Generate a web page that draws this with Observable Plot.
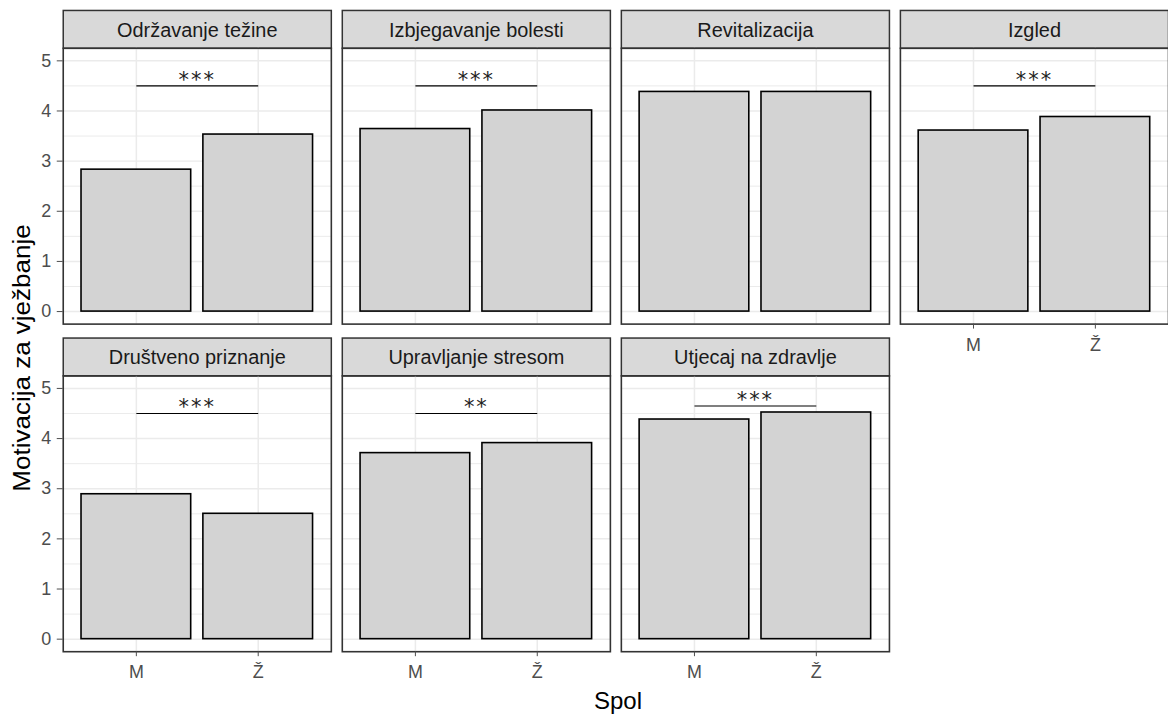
<!DOCTYPE html>
<html>
<head>
<meta charset="utf-8">
<script src="https://cdn.jsdelivr.net/npm/d3@7"></script>
<script src="https://cdn.jsdelivr.net/npm/@observablehq/plot@0.6"></script>
<style>
  body { margin: 0; overflow: hidden; background: #fff; font-family: "Liberation Sans", Arial, sans-serif; }
  #wrap { position: relative; width: 1168px; height: 720px; overflow: hidden; }
  #chart { position: absolute; left: 0; top: 0; }
  #ytitle { position: absolute; left: 22px; top: 358px; transform: translate(-50%, -50%) rotate(-90deg) scaleX(1.13);
            font-size: 23px; line-height: 24px; white-space: nowrap; color: #000; }
  #xtitle { position: absolute; left: 618px; top: 689px; transform: translateX(-50%);
            font-size: 24px; line-height: 24px; white-space: nowrap; color: #000; }
</style>
</head>
<body>
<div id="wrap">
  <div id="chart"></div>
  <div id="ytitle">Motivacija za vježbanje</div>
  <div id="xtitle">Spol</div>
</div>
<script>
// ---- data ----
const panels = ["Održavanje težine", "Izbjegavanje bolesti", "Revitalizacija", "Izgled",
                "Društveno priznanje", "Upravljanje stresom", "Utjecaj na zdravlje"];
const sexes = ["M", "Ž"];
const meanM = [2.83, 3.64, 4.38, 3.61, 2.89, 3.71, 4.38];
const meanZ = [3.53, 4.01, 4.38, 3.88, 2.50, 3.91, 4.52];
const sigLabel = ["***", "***", "", "***", "***", "**", "***"];
const sigY = [4.5, 4.5, null, 4.5, 4.5, 4.5, 4.65];
const yTicks = [0, 1, 2, 3, 4, 5];
const yMinor = [0.5, 1.5, 2.5, 3.5, 4.5];
const nCols = 4;

// ---- tables built from the arrays ----
const strips = panels.map((name, i) => ({name, col: i % nCols, row: Math.floor(i / nCols)}));
const bars = [];
panels.forEach((name, i) => {
  bars.push({name, col: i % nCols, row: Math.floor(i / nCols), sex: sexes[0], value: meanM[i]});
  bars.push({name, col: i % nCols, row: Math.floor(i / nCols), sex: sexes[1], value: meanZ[i]});
});
const sig = panels.map((name, i) => ({name, col: i % nCols, row: Math.floor(i / nCols), label: sigLabel[i], y: sigY[i]}))
                  .filter(d => d.label !== "");

const panelH = 277;
const stripH = 38;
const font = "'Liberation Sans', Arial, sans-serif";

const chart = Plot.plot({
  width: 1173,
  height: 720,
  marginLeft: 63,
  marginRight: 0,
  marginTop: 48,
  marginBottom: 66,
  style: {fontFamily: font, background: "white", overflow: "visible"},
  fx: {domain: [0, 1, 2, 3], paddingInner: 11 / 280, paddingOuter: 0, round: false, axis: null},
  fy: {domain: [0, 1], paddingInner: 52 / 329, paddingOuter: 0, round: false, axis: null},
  x: {domain: sexes, paddingInner: 0.1, paddingOuter: 0.15, round: false},
  y: {domain: [-0.25, 5.25]},
  marks: [
    // strip background
    Plot.frame({fill: "#d9d9d9", stroke: "#333333", strokeWidth: 1.5, insetTop: -stripH, insetBottom: panelH}),
    // grid
    Plot.ruleY(yMinor, {y: d => d, stroke: "#ebebeb", strokeWidth: 1}),
    Plot.gridY({ticks: yTicks, stroke: "#ebebeb", strokeOpacity: 1, strokeWidth: 1.5}),
    Plot.gridX({stroke: "#ebebeb", strokeOpacity: 1, strokeWidth: 1.5}),
    // bars
    Plot.barY(bars, {fx: "col", fy: "row", x: "sex", y: "value", fill: "#d3d3d3", stroke: "#000", strokeWidth: 1.6}),
    // significance brackets
    Plot.link(sig, {fx: "col", fy: "row", x1: () => sexes[0], x2: () => sexes[1], y1: "y", y2: "y", stroke: "#000", strokeWidth: 1.2}),
    Plot.text(sig, {fx: "col", fy: "row", y: "y", text: "label", lineAnchor: "bottom", dy: 1,
                    fontFamily: "DejaVu Sans", fontSize: 21, fill: "#222"}),
    // panel border
    Plot.frame({stroke: "#333333", strokeWidth: 1.6}),
    // axes
    Plot.axisY({ticks: yTicks, tickFormat: d => String(d), tickSize: 6, tickPadding: 6, fontSize: 18, color: "#4d4d4d", label: null}),
    Plot.axisX({tickSize: 5, tickPadding: 9, fontSize: 18, color: "#4d4d4d", label: null}),
    // strip labels
    Plot.text(strips, {fx: "col", fy: "row", text: "name", frameAnchor: "top", dy: -18, lineAnchor: "middle",
                       fontSize: 20, fill: "#1a1a1a"})
  ]
});
// widen the spacing of the significance stars a little
d3.select(chart).selectAll("text").filter(function() { return /^\*+$/.test(this.textContent); })
  .attr("letter-spacing", "2px");
document.getElementById("chart").appendChild(chart);
</script>
</body>
</html>
